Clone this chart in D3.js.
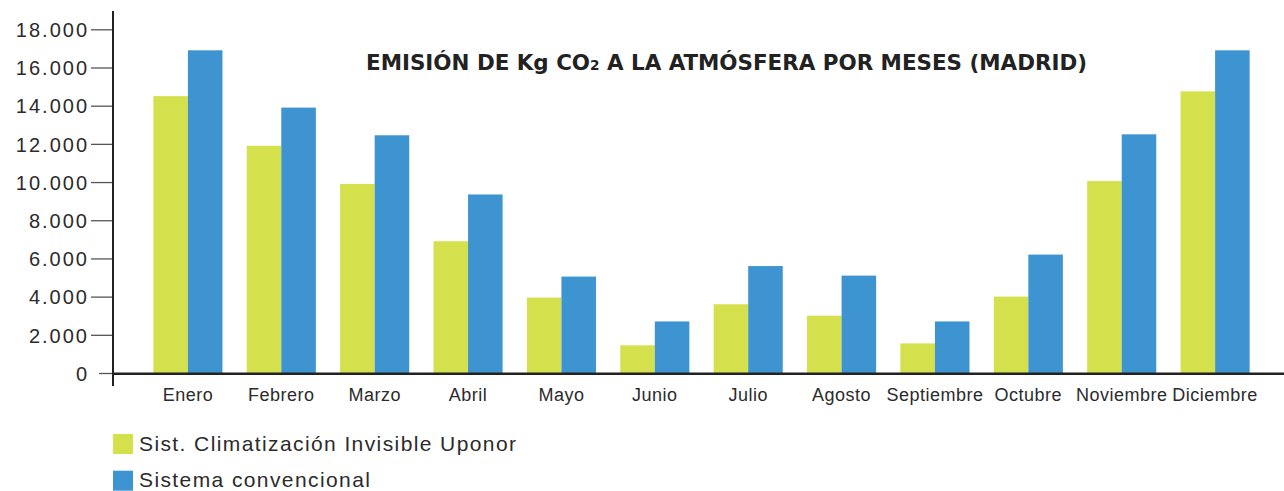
<!DOCTYPE html>
<html>
<head>
<meta charset="utf-8">
<script src="https://cdn.jsdelivr.net/npm/d3@7"></script>
<style>
  body { margin: 0; background: #fff; }
  svg { display: block; }
</style>
</head>
<body>
<svg id="svg" width="1284" height="491"></svg>
<script>
// data
var months = ['Enero', 'Febrero', 'Marzo', 'Abril', 'Mayo', 'Junio', 'Julio',
  'Agosto', 'Septiembre', 'Octubre', 'Noviembre', 'Diciembre'];
var uponor = [14500, 11900, 9900, 6900, 3950, 1450, 3600, 3000, 1550, 4000, 10050, 14750];
var convencional = [16900, 13900, 12450, 9350, 5050, 2700, 5600, 5100, 2700, 6200, 12500, 16900];
var yTicks = [0, 2000, 4000, 6000, 8000, 10000, 12000, 14000, 16000, 18000];
var seriesNames = ['Sist. Climatización Invisible Uponor', 'Sistema convencional'];
var seriesColors = ['#d4e04c', '#3e94d1'];

var svg = d3.select('svg');

var y = d3.scaleLinear()
    .domain([0, 18000])
    .range([373, 29.3]);

var x = d3.scaleBand()
    .domain(months)
    .range([116, 1287])
    .paddingInner(0.26)
    .paddingOuter(0.4);

var xSub = d3.scaleBand()
    .domain([0, 1])
    .range([0, x.bandwidth()]);

var fmt = function(d){ return d3.format(',')(d).replace(/,/g, '.'); };

// bars
var groups = svg.append('g')
    .selectAll('g')
    .data(months)
    .enter()
    .append('g')
    .attr('transform', function(d){ return 'translate(' + x(d) + ',0)'; });

groups.selectAll('rect')
    .data(function(d, i){ return [uponor[i], convencional[i]]; })
    .enter()
    .append('rect')
    .attr('x', function(d, i){ return xSub(i); })
    .attr('width', xSub.bandwidth())
    .attr('y', function(d){ return y(d); })
    .attr('height', function(d){ return y(0) - y(d); })
    .attr('fill', function(d, i){ return seriesColors[i]; });

// y axis
var yAxis = svg.append('g')
    .attr('transform', 'translate(113,0)')
    .call(d3.axisLeft(y).tickValues(yTicks).tickSize(22).tickPadding(2).tickFormat(fmt));

yAxis.select('.domain').remove();
yAxis.selectAll('.tick line')
    .attr('stroke', '#555')
    .attr('stroke-width', 1.3)
    .attr('x2', function(d){ return d === 0 ? -14 : -22; });
yAxis.selectAll('.tick text')
    .attr('font-family', '"Liberation Sans", Arial, sans-serif')
    .attr('font-size', 20)
    .attr('letter-spacing', '2px')
    .attr('fill', '#2b2b2b')
    .attr('dy', '0.36em');

svg.append('line')
    .attr('x1', 113).attr('x2', 113)
    .attr('y1', 11).attr('y2', 386)
    .attr('stroke', '#222')
    .attr('stroke-width', 2);

// x axis
var xAxis = svg.append('g')
    .attr('transform', 'translate(0,' + y(0) + ')')
    .call(d3.axisBottom(x).tickSize(0).tickPadding(15));

xAxis.select('.domain').remove();
xAxis.selectAll('.tick text')
    .attr('font-family', '"Liberation Sans", Arial, sans-serif')
    .attr('font-size', 18)
    .attr('letter-spacing', '0.5px')
    .attr('fill', '#2b2b2b');

svg.append('line')
    .attr('x1', 112).attr('x2', 1284)
    .attr('y1', y(0) + 0.8).attr('y2', y(0) + 0.8)
    .attr('stroke', '#222')
    .attr('stroke-width', 2.5);

// title
var title = svg.append('text')
    .attr('x', 366)
    .attr('y', 70)
    .attr('font-family', '"Liberation Sans Narrow", "DejaVu Sans Condensed", "Liberation Sans", sans-serif')
    .attr('font-weight', 'bold')
    .attr('font-size', 22)
    .attr('fill', '#222')
    .attr('textLength', 721)
    .attr('lengthAdjust', 'spacingAndGlyphs');
title.append('tspan').text('EMISIÓN DE Kg CO');
title.append('tspan').attr('font-size', 14).text('2');
title.append('tspan').text(' A LA ATMÓSFERA POR MESES (MADRID)');

// legend
var legend = svg.append('g')
    .selectAll('g')
    .data(seriesNames)
    .enter()
    .append('g')
    .attr('transform', function(d, i){ return 'translate(113,' + (434 + i * 36.7) + ')'; });

legend.append('rect')
    .attr('width', 20)
    .attr('height', 20)
    .attr('fill', function(d, i){ return seriesColors[i]; });

legend.append('text')
    .attr('x', 26)
    .attr('y', 16.5)
    .attr('font-family', '"Liberation Sans", Arial, sans-serif')
    .attr('font-size', 21)
    .attr('letter-spacing', '1.4px')
    .attr('fill', '#2b2b2b')
    .text(function(d){ return d; });
</script>
</body>
</html>
